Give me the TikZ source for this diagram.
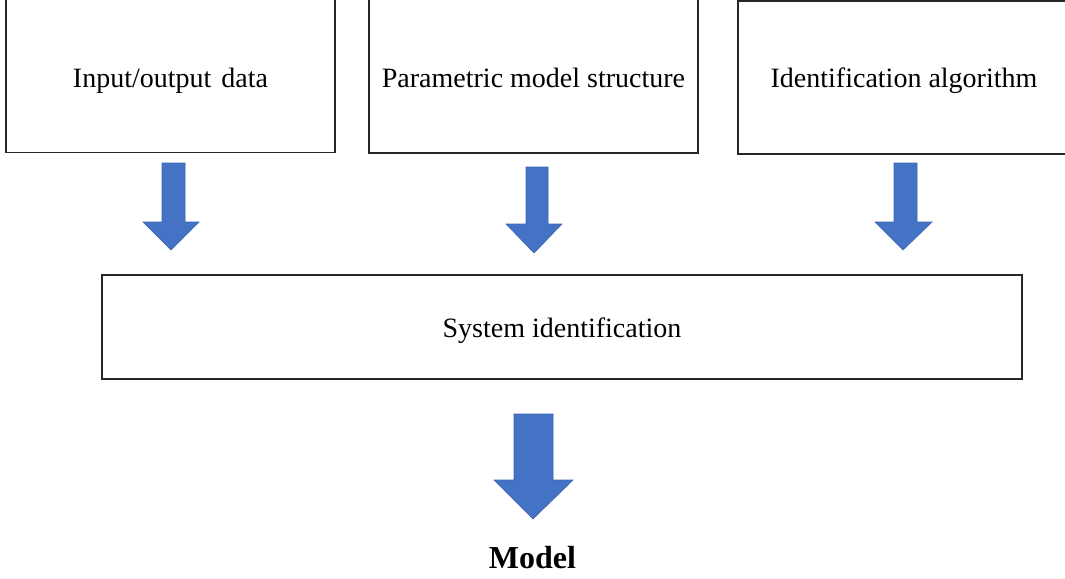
\documentclass[tikz,border=0pt]{standalone}
\usepackage{fontspec}
\setmainfont{Liberation Serif}
\definecolor{arrowblue}{HTML}{4472C4}
\definecolor{arrowedge}{HTML}{3A64B0}
\definecolor{boxline}{HTML}{262626}
\tikzset{
  box/.style={draw=boxline, line width=1.1pt, fill=white, rectangle, inner sep=0pt},
  boxtext/.style={anchor=base, inner sep=0pt, font=\fontsize{28}{32}\selectfont},
  blockarrow/.style={fill=arrowblue, draw=arrowedge, line width=0.6pt, line join=miter},
}
\begin{document}
\begin{tikzpicture}[x=1pt,y=-1pt]
\useasboundingbox (0,0) rectangle (1065,578);
\clip (0,0) rectangle (1065,578);
\fill[white] (0,0) rectangle (1065,578);
% top boxes
\node[box, minimum width=329pt, minimum height=156pt] (io) at (170.5,74.5) {};
\node[boxtext] (iot) at (170.5,87) {Input/output\hspace{3pt} data};
\node[box, minimum width=329pt, minimum height=156pt] (pm) at (533.5,75) {};
\node[boxtext] (pmt) at (533.5,87.5) {Parametric model structure};
\node[box, minimum width=332pt, minimum height=153pt] (ia) at (904,77.5) {};
\node[boxtext] (iat) at (904,88) {Identification algorithm};
% system identification
\node[box, minimum width=920pt, minimum height=104pt] (si) at (562,327) {};
\node[boxtext] (sit) at (562,337) {System identification};
% model label
\node[anchor=base, inner sep=0pt, font=\fontsize{32}{36}\selectfont\bfseries] (model) at (532.5,568) {Model};
% block arrows
\draw[blockarrow] (162,163) -- (185,163) -- (185,222) -- (199,222) -- (171,250) -- (143,222) -- (162,222) -- cycle;
\draw[blockarrow] (526,167) -- (548,167) -- (548,224) -- (562,224) -- (534,253) -- (506,224) -- (526,224) -- cycle;
\draw[blockarrow] (894,163) -- (917,163) -- (917,222) -- (932,222) -- (903,250) -- (875,222) -- (894,222) -- cycle;
\draw[blockarrow] (514,414) -- (553,414) -- (553,480) -- (573,480) -- (533,519) -- (494,480) -- (514,480) -- cycle;
\end{tikzpicture}
\end{document}
